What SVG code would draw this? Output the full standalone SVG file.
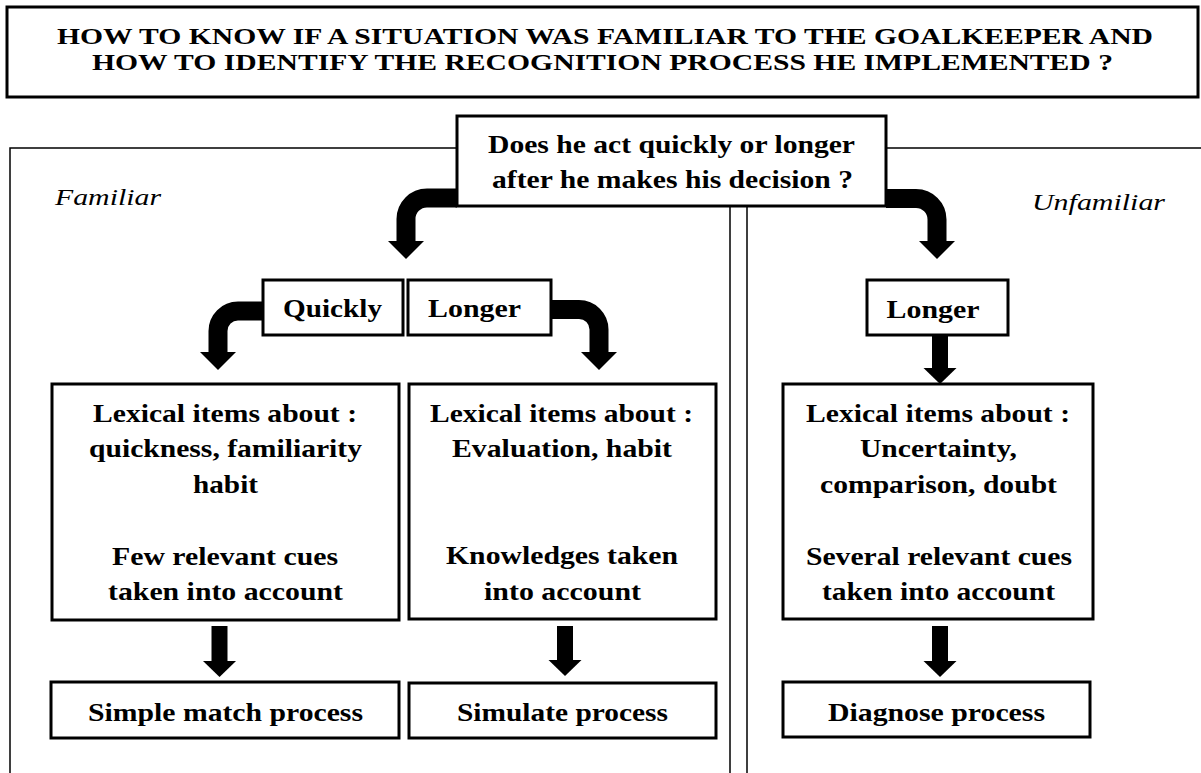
<svg xmlns="http://www.w3.org/2000/svg" width="1201" height="773" viewBox="0 0 1201 773">
<style>
.box{fill:#fff;stroke:#000;stroke-width:3}
.frame{fill:none;stroke:#000;stroke-width:1.5}
.t{font-family:'Liberation Serif','Times New Roman','DejaVu Serif',serif;font-weight:700;font-size:25px;fill:#000;text-anchor:middle}
.tt{font-size:24px}
.it{font-family:'Liberation Serif','Times New Roman','DejaVu Serif',serif;font-style:italic;font-size:24px;fill:#000}
.shaft{fill:none;stroke:#000;stroke-width:19}
.shaft2{fill:none;stroke:#000;stroke-width:16}
</style>
<defs>
<marker id="hb" markerUnits="userSpaceOnUse" viewBox="0 -19 19 38" markerWidth="19" markerHeight="38" refX="1" refY="0" orient="auto">
<path d="M0,-18 L18,0 L0,18 Z" fill="#000"/>
</marker>
<marker id="hs" markerUnits="userSpaceOnUse" viewBox="0 -17 17 34" markerWidth="17" markerHeight="34" refX="1" refY="0" orient="auto">
<path d="M0,-16.5 L16,0 L0,16.5 Z" fill="#000"/>
</marker>
</defs>
<rect width="1201" height="773" fill="#fff"/>

<g id="title">
<rect class="box" x="7" y="7" width="1191" height="90"/>
<text class="t tt" x="605" y="44" textLength="1096" lengthAdjust="spacingAndGlyphs">HOW TO KNOW IF A SITUATION WAS FAMILIAR TO THE GOALKEEPER AND</text>
<text class="t tt" x="602.5" y="70" textLength="1021" lengthAdjust="spacingAndGlyphs">HOW TO IDENTIFY THE RECOGNITION PROCESS HE IMPLEMENTED ?</text>
</g>

<g id="frame">
<path class="frame" d="M10,773 V148 H457 M886,148 H1201"/>
<path class="frame" d="M730,206 V773 M747,206 V773"/>
<text class="it" x="55" y="205" textLength="106" lengthAdjust="spacingAndGlyphs">Familiar</text>
<text class="it" x="1032" y="210" textLength="133" lengthAdjust="spacingAndGlyphs">Unfamiliar</text>
</g>

<g id="connectors">
<path class="shaft" d="M457,198 H427 A21,21 0 0 0 406,219 V242" marker-end="url(#hb)"/>
<path class="shaft" d="M886,198.5 H916 A21,21 0 0 1 937,219.5 V242" marker-end="url(#hb)"/>
<path class="shaft" d="M263,311 H238 A20,20 0 0 0 218,331 V353" marker-end="url(#hb)"/>
<path class="shaft" d="M551,309.5 H579 A20,20 0 0 1 599,329.5 V353" marker-end="url(#hb)"/>
<path class="shaft2" d="M940,335 V369" marker-end="url(#hs)"/>
<path class="shaft2" d="M219.5,626 V662" marker-end="url(#hs)"/>
<path class="shaft2" d="M565,626 V661" marker-end="url(#hs)"/>
<path class="shaft2" d="M940,626 V662" marker-end="url(#hs)"/>
</g>

<g id="question">
<rect class="box" x="457" y="116" width="429" height="90"/>
<text class="t" x="671.5" y="153" textLength="367" lengthAdjust="spacingAndGlyphs">Does he act quickly or longer</text>
<text class="t" x="672.5" y="188" textLength="361" lengthAdjust="spacingAndGlyphs">after he makes his decision ?</text>
</g>

<g id="quickly">
<rect class="box" x="263" y="280" width="140" height="55"/>
<text class="t" x="332.5" y="317" textLength="99" lengthAdjust="spacingAndGlyphs">Quickly</text>
</g>

<g id="longer-familiar">
<rect class="box" x="408" y="280" width="143" height="55"/>
<text class="t" x="474.5" y="317" textLength="93" lengthAdjust="spacingAndGlyphs">Longer</text>
</g>

<g id="longer-unfamiliar">
<rect class="box" x="867" y="280" width="141" height="55"/>
<text class="t" x="933" y="318" textLength="93" lengthAdjust="spacingAndGlyphs">Longer</text>
</g>

<g id="lexical-quick">
<rect class="box" x="52" y="384" width="347" height="236"/>
<text class="t" x="225" y="422" textLength="264" lengthAdjust="spacingAndGlyphs">Lexical items about :</text>
<text class="t" x="225.5" y="457" textLength="273" lengthAdjust="spacingAndGlyphs">quickness, familiarity</text>
<text class="t" x="225.5" y="493" textLength="65" lengthAdjust="spacingAndGlyphs">habit</text>
<text class="t" x="225" y="565" textLength="226" lengthAdjust="spacingAndGlyphs">Few relevant cues</text>
<text class="t" x="225.5" y="600" textLength="235" lengthAdjust="spacingAndGlyphs">taken into account</text>
</g>

<g id="lexical-longer">
<rect class="box" x="409" y="384" width="307" height="235"/>
<text class="t" x="561.5" y="422" textLength="263" lengthAdjust="spacingAndGlyphs">Lexical items about :</text>
<text class="t" x="562" y="457" textLength="220" lengthAdjust="spacingAndGlyphs">Evaluation, habit</text>
<text class="t" x="562" y="564" textLength="232" lengthAdjust="spacingAndGlyphs">Knowledges taken</text>
<text class="t" x="562.5" y="600" textLength="157" lengthAdjust="spacingAndGlyphs">into account</text>
</g>

<g id="lexical-unfamiliar">
<rect class="box" x="783" y="384" width="310" height="235"/>
<text class="t" x="938" y="422" textLength="264" lengthAdjust="spacingAndGlyphs">Lexical items about :</text>
<text class="t" x="938.5" y="457" textLength="157" lengthAdjust="spacingAndGlyphs">Uncertainty,</text>
<text class="t" x="938.5" y="493" textLength="237" lengthAdjust="spacingAndGlyphs">comparison, doubt</text>
<text class="t" x="939" y="565" textLength="266" lengthAdjust="spacingAndGlyphs">Several relevant cues</text>
<text class="t" x="938.5" y="600" textLength="233" lengthAdjust="spacingAndGlyphs">taken into account</text>
</g>

<g id="simple-match">
<rect class="box" x="51" y="682" width="348" height="56"/>
<text class="t" x="225.5" y="721" textLength="275" lengthAdjust="spacingAndGlyphs">Simple match process</text>
</g>

<g id="simulate">
<rect class="box" x="409" y="683" width="307" height="55"/>
<text class="t" x="562.5" y="721" textLength="211" lengthAdjust="spacingAndGlyphs">Simulate process</text>
</g>

<g id="diagnose">
<rect class="box" x="783" y="682" width="307" height="55"/>
<text class="t" x="936.5" y="721" textLength="217" lengthAdjust="spacingAndGlyphs">Diagnose process</text>
</g>
</svg>
